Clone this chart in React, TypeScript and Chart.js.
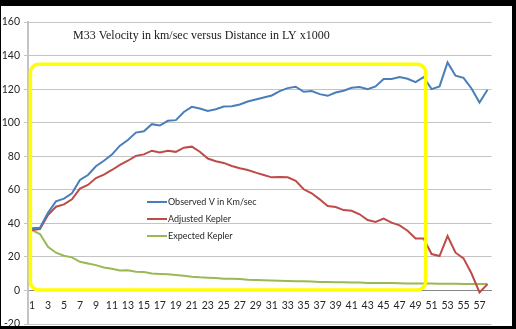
import React, { useEffect, useRef } from "react";
import { Chart, registerables } from "chart.js";

Chart.register(...registerables);

const TITLE = "M33 Velocity in km/sec versus Distance in LY x1000";

const categories = [
  "1", "2", "3", "4", "5", "6", "7", "8", "9", "10",
  "11", "12", "13", "14", "15", "16", "17", "18", "19", "20",
  "21", "22", "23", "24", "25", "26", "27", "28", "29", "30",
  "31", "32", "33", "34", "35", "36", "37", "38", "39", "40",
  "41", "42", "43", "44", "45", "46", "47", "48", "49", "50",
  "51", "52", "53", "54", "55", "56", "57", "58",
];

const observedV = [
  37, 37.4, 46.3, 53.1, 54.7, 57.9, 65.9, 68.8, 74, 77.3,
  81, 86.3, 89.7, 94.1, 94.9, 99.1, 98.3, 101.1, 101.5, 106.4,
  109.4, 108.4, 107, 108, 109.6, 109.8, 110.8, 112.6, 113.8, 115,
  116.2, 118.8, 120.6, 121.4, 118.4, 118.8, 117, 116, 118, 119,
  120.8, 121.2, 120, 121.6, 126, 126, 127.2, 126.2, 124.2, 127.2,
  120, 121.6, 135.9, 128, 126.7, 120.4, 112, 119.6,
];

const adjustedKepler = [
  36, 36.6, 45, 49.9, 51.3, 54.3, 60.7, 62.9, 67, 69,
  71.8, 74.8, 77.3, 80.2, 81.1, 83.3, 82.2, 83.3, 82.6, 85.1,
  85.7, 82.7, 78.6, 77, 76, 74.2, 72.8, 71.8, 70.2, 68.8,
  67.4, 67.6, 67.4, 65.4, 60.3, 57.9, 54.3, 50.3, 49.7, 47.9,
  47.5, 45.4, 42, 40.8, 42.8, 40.4, 38.8, 35.6, 31, 31,
  21.7, 20.5, 32.4, 22.5, 19.1, 10.1, -1.2, 3.8,
];

const expectedKepler = [
  36, 33.6, 26, 22.5, 20.7, 19.7, 17.1, 16.1, 15.1, 13.7,
  12.9, 11.9, 12, 11.1, 11, 10.1, 9.8, 9.6, 9.2, 8.8,
  8.2, 7.8, 7.6, 7.4, 7, 7, 6.8, 6.4, 6.2, 6.1,
  6, 5.8, 5.6, 5.5, 5.5, 5.3, 5.1, 5, 4.9, 4.9,
  4.8, 4.7, 4.5, 4.4, 4.4, 4.4, 4.3, 4.2, 4.1, 4.1,
  4.1, 4, 4, 4, 3.9, 3.8, 3.8, 3.8,
];

const seriesLabels = ["Observed V in Km/sec", "Adjusted Kepler", "Expected Kepler"];
const seriesColors = ["#4A7EBB", "#BE4B48", "#98B954"];

const yMin = -20;
const yMax = 160;
const yStep = 20;

// highlight box in data coordinates (category index, value)
const highlightFromIndex = -0.2;
const highlightToIndex = 49.25;
const highlightLow = 0.3;
const highlightHigh = 134.8;

const overlayPlugin = {
  id: "overlay",
  afterDatasetsDraw(chart: any) {
    const { ctx, chartArea, scales } = chart;
    const x = scales.x;
    const y = scales.y;
    ctx.save();
    // title
    ctx.font = '12px "Liberation Serif", "Times New Roman", serif';
    ctx.fillStyle = "#1a1a1a";
    ctx.textBaseline = "middle";
    ctx.textAlign = "left";
    ctx.fillText(TITLE, chartArea.left + 45, chartArea.top + 14);

    // legend
    ctx.font = '9px Lato, "Liberation Sans", sans-serif';
    chart.data.datasets.forEach((ds: any, i: number) => {
      const yy = chartArea.top + 180 + i * 17;
      ctx.strokeStyle = ds.borderColor;
      ctx.lineWidth = 2;
      ctx.beginPath();
      ctx.moveTo(chartArea.left + 119, yy);
      ctx.lineTo(chartArea.left + 139, yy);
      ctx.stroke();
      ctx.fillStyle = "#262626";
      ctx.fillText(ds.label, chartArea.left + 140, yy);
    });

    // yellow highlight box
    const l = x.getPixelForValue(highlightFromIndex);
    const r = x.getPixelForValue(highlightToIndex);
    const t = y.getPixelForValue(highlightHigh);
    const b = y.getPixelForValue(highlightLow);
    ctx.strokeStyle = "#FFFF00";
    ctx.lineWidth = 3.5;
    ctx.beginPath();
    ctx.roundRect(l, t, r - l, b - t, 8);
    ctx.stroke();
    ctx.restore();
  },
};

export default function App() {
  const ref = useRef<HTMLCanvasElement | null>(null);

  useEffect(() => {
    if (!ref.current) return;
    const datasets = [observedV, adjustedKepler, expectedKepler].map((d, i) => ({
      label: seriesLabels[i],
      data: d,
      borderColor: seriesColors[i],
      backgroundColor: seriesColors[i],
      borderWidth: 2,
      pointRadius: 0,
      tension: 0,
      fill: false,
    }));
    const tickFont = { family: 'Lato, "Liberation Sans", sans-serif', size: 10.5 };
    const chart = new Chart(ref.current, {
      type: "line",
      data: { labels: categories, datasets },
      options: {
        animation: false,
        responsive: false,
        maintainAspectRatio: false,
        layout: { padding: { left: 0, right: 20.5, top: 16, bottom: 2 } },
        plugins: { legend: { display: false }, tooltip: { enabled: false }, title: { display: false } },
        scales: {
          x: {
            type: "category",
            position: { y: 0 } as any,
            offset: true,
            grid: { display: false, drawTicks: false },
            border: { display: true, color: "#868686", width: 1 },
            ticks: {
              autoSkip: false,
              maxRotation: 0,
              minRotation: 0,
              padding: 9,
              color: "#262626",
              font: tickFont,
              callback: (_v: any, idx: number) => (idx % 2 === 0 ? categories[idx] : ""),
            },
            afterFit: (s: any) => {
              s.paddingLeft = 0;
              s.paddingRight = 0;
              s.paddingTop = 0;
              s.paddingBottom = 0;
            },
          },
          y: {
            min: yMin,
            max: yMax,
            ticks: { stepSize: yStep, color: "#262626", font: tickFont, padding: 4 },
            grid: { color: "#C4C4C4", lineWidth: 1, tickLength: 4, drawTicks: true },
            border: { display: true, color: "#C4C4C4", width: 2 },
            afterFit: (s: any) => {
              s.width = 27;
              s.paddingTop = 0;
              s.paddingBottom = 0;
            },
          },
        },
      },
      plugins: [overlayPlugin],
    });
    return () => chart.destroy();
  }, []);

  return (
    <div style={{ position: "fixed", inset: 0, background: "#000" }}>
      <div style={{ position: "absolute", left: 1, top: 6, width: 511, height: 320, background: "#fff" }}>
        <canvas ref={ref} width={511} height={320} style={{ display: "block", width: 511, height: 320 }} />
      </div>
    </div>
  );
}
